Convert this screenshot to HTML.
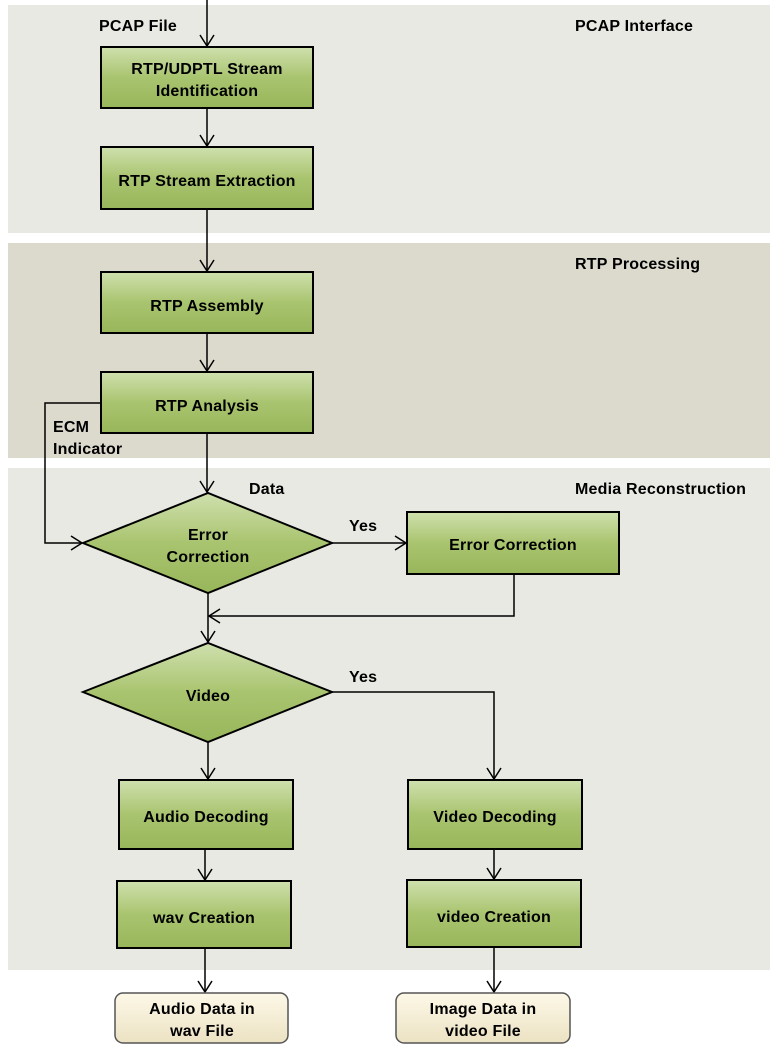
<!DOCTYPE html>
<html><head><meta charset="utf-8"><style>
body{margin:0;background:#fff;}
text{font-family:"Liberation Sans",sans-serif;font-weight:bold;font-size:16px;fill:#000;letter-spacing:0.2px;}
</style></head><body>
<svg width="778" height="1055" viewBox="0 0 778 1055" xmlns="http://www.w3.org/2000/svg">
<defs>
<linearGradient id="g" x1="0" y1="0" x2="0" y2="1">
<stop offset="0" stop-color="#cfe0ae"/><stop offset="0.5" stop-color="#a9c46f"/><stop offset="1" stop-color="#98b65a"/></linearGradient>
<linearGradient id="t" x1="0" y1="0" x2="0" y2="1">
<stop offset="0" stop-color="#fdf8e8"/><stop offset="1" stop-color="#ece2c3"/></linearGradient>
<marker id="a" markerWidth="14" markerHeight="16" refX="12" refY="8" orient="auto" markerUnits="userSpaceOnUse">
<path d="M1,1 L12,8 L1,15" fill="none" stroke="#000" stroke-width="1.5"/></marker>
</defs>
<rect x="8" y="5" width="762" height="228" fill="#e9e9e4"/>
<rect x="8" y="243" width="762" height="215" fill="#dcd9cd"/>
<rect x="8" y="468" width="762" height="502" fill="#e9e9e4"/>
<text x="575" y="31">PCAP Interface</text>
<text x="575" y="269">RTP Processing</text>
<text x="575" y="494">Media Reconstruction</text>
<g stroke="#000" stroke-width="1.5" fill="none">
<line x1="207" y1="0" x2="207" y2="46" marker-end="url(#a)"/>
<line x1="207" y1="108" x2="207" y2="146" marker-end="url(#a)"/>
<line x1="207" y1="209" x2="207" y2="271" marker-end="url(#a)"/>
<line x1="207" y1="333" x2="207" y2="371" marker-end="url(#a)"/>
<line x1="207" y1="433" x2="207" y2="492" marker-end="url(#a)"/>
<polyline points="100,403 45,403 45,543 82,543" marker-end="url(#a)"/>
<line x1="332" y1="543" x2="406" y2="543" marker-end="url(#a)"/>
<polyline points="514,574 514,616 209,616" marker-end="url(#a)"/>
<line x1="208" y1="593" x2="208" y2="642" marker-end="url(#a)"/>
<polyline points="332,692 494,692 494,779" marker-end="url(#a)"/>
<line x1="208" y1="742" x2="208" y2="779" marker-end="url(#a)"/>
<line x1="205" y1="849" x2="205" y2="880" marker-end="url(#a)"/>
<line x1="494" y1="849" x2="494" y2="879" marker-end="url(#a)"/>
<line x1="205" y1="948" x2="205" y2="992" marker-end="url(#a)"/>
<line x1="494" y1="947" x2="494" y2="992" marker-end="url(#a)"/>
</g>
<g fill="url(#g)" stroke="#000" stroke-width="2">
<rect x="101" y="47" width="212" height="61"/>
<rect x="101" y="147" width="212" height="62"/>
<rect x="101" y="272" width="212" height="61"/>
<rect x="101" y="372" width="212" height="61"/>
<polygon points="83,543 208,493 332,543 208,593"/>
<rect x="407" y="512" width="212" height="62"/>
<polygon points="83,692 208,643 332,692 208,742"/>
<rect x="119" y="780" width="174" height="69"/>
<rect x="408" y="780" width="174" height="69"/>
<rect x="117" y="881" width="174" height="67"/>
<rect x="407" y="880" width="174" height="67"/>
</g>
<g fill="url(#t)" stroke="#555" stroke-width="1.5">
<rect x="115" y="993" width="173" height="50" rx="8"/>
<rect x="396" y="993" width="174" height="50" rx="8"/>
</g>
<text x="99" y="31">PCAP File</text>
<g text-anchor="middle">
<text x="207" y="74">RTP/UDPTL Stream</text>
<text x="207" y="96">Identification</text>
<text x="207" y="186">RTP Stream Extraction</text>
<text x="207" y="311">RTP Assembly</text>
<text x="207" y="411">RTP Analysis</text>
<text x="208" y="540">Error</text>
<text x="208" y="562">Correction</text>
<text x="513" y="550">Error Correction</text>
<text x="208" y="701">Video</text>
<text x="206" y="822">Audio Decoding</text>
<text x="495" y="822">Video Decoding</text>
<text x="204" y="923">wav Creation</text>
<text x="494" y="922">video Creation</text>
<text x="202" y="1014">Audio Data in</text>
<text x="202" y="1036">wav File</text>
<text x="483" y="1014">Image Data in</text>
<text x="483" y="1036">video File</text>
</g>
<text x="53" y="432">ECM</text>
<text x="53" y="454">Indicator</text>
<text x="249" y="494">Data</text>
<text x="349" y="531">Yes</text>
<text x="349" y="682">Yes</text>
</svg>
</body></html>
